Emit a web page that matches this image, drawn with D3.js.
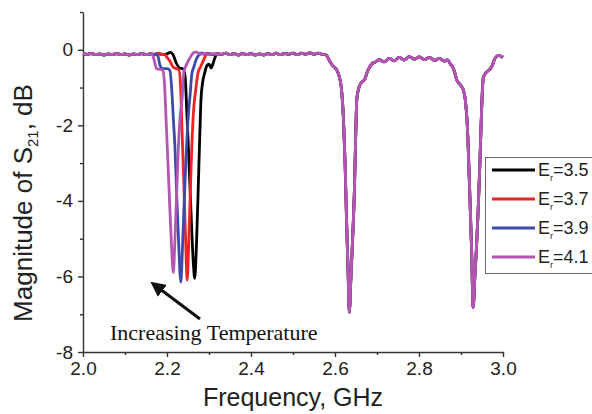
<!DOCTYPE html>
<html lang="en">
<head>
  <meta charset="UTF-8">
  <title>S21 vs Frequency</title>
  <script src="https://d3js.org/d3.v7.min.js"></script>
  <style>
    body {
      margin: 0;
      padding: 0;
      background: #fff;
      font-family: "Liberation Sans", Arial, sans-serif;
    }
    .axis path, .axis line {
      stroke: #333;
      stroke-width: 1.4;
    }
    .axis text {
      font-size: 19px;
      fill: #222;
      font-family: "Liberation Sans", Arial, sans-serif;
    }
  </style>
</head>
<body>
  <div id="chart"></div>
  <script>
    const width = 592;
    const height = 414;

    // permittivity labels and line colours
    const labels = ["3.5", "3.7", "3.9", "4.1"];
    const colors = ["#000000", "#f02323", "#3c4aaa", "#b455b4"];

    // shared baseline below the first notch [GHz, dB]
    const baseLeft = [
      [2.00, -0.10], [2.01, -0.12], [2.02, -0.10], [2.03, -0.13], [2.04, -0.11],
      [2.05, -0.14], [2.06, -0.11], [2.07, -0.13], [2.08, -0.10], [2.09, -0.13],
      [2.10, -0.11], [2.11, -0.14], [2.12, -0.11], [2.13, -0.13], [2.14, -0.10],
      [2.15, -0.13], [2.16, -0.11]
    ];

    // first notch, one per curve
    const notchE35 = [
      [2.17, -0.12], [2.18, -0.10], [2.19, -0.13], [2.20, -0.11], [2.207, -0.07],
      [2.214, -0.12], [2.222, -0.35], [2.23, -0.48], [2.238, -0.50], [2.243, -0.70],
      [2.247, -1.6], [2.251, -2.6], [2.255, -3.7], [2.259, -4.8], [2.263, -5.7],
      [2.266, -6.05], [2.27, -5.2], [2.274, -3.8], [2.278, -2.3], [2.281, -1.3],
      [2.285, -0.85], [2.29, -0.60], [2.295, -0.42], [2.30, -0.38], [2.305, -0.48],
      [2.31, -0.35], [2.315, -0.18], [2.32, -0.10], [2.325, -0.12]
    ];
    const notchE37 = [
      [2.17, -0.12], [2.18, -0.10], [2.19, -0.13], [2.195, -0.12], [2.20, -0.20],
      [2.207, -0.30], [2.214, -0.45], [2.222, -0.50], [2.228, -0.52], [2.232, -0.9],
      [2.236, -2.2], [2.24, -3.5], [2.244, -4.9], [2.248, -6.1], [2.252, -5.0],
      [2.256, -3.6], [2.26, -2.3], [2.264, -1.5], [2.268, -1.1], [2.274, -0.60],
      [2.28, -0.45], [2.286, -0.30], [2.29, -0.20], [2.295, -0.09], [2.30, -0.10],
      [2.31, -0.13], [2.32, -0.10]
    ];
    const notchE39 = [
      [2.17, -0.12], [2.178, -0.15], [2.183, -0.40], [2.19, -0.50], [2.20, -0.50],
      [2.207, -0.55], [2.211, -1.0], [2.215, -1.8], [2.219, -2.6], [2.223, -3.8],
      [2.227, -4.9], [2.233, -6.15], [2.237, -5.2], [2.241, -4.0], [2.246, -2.7],
      [2.251, -1.7], [2.255, -1.2], [2.259, -0.65], [2.264, -0.45], [2.269, -0.27],
      [2.275, -0.15], [2.283, -0.08], [2.29, -0.12], [2.30, -0.10], [2.31, -0.13],
      [2.32, -0.11]
    ];
    const notchE41 = [
      [2.165, -0.13], [2.17, -0.30], [2.175, -0.50], [2.185, -0.52], [2.19, -0.55],
      [2.194, -0.9], [2.198, -1.9], [2.202, -2.9], [2.206, -4.0], [2.21, -5.0],
      [2.215, -5.9], [2.219, -5.0], [2.223, -3.8], [2.227, -2.6], [2.231, -1.8],
      [2.236, -1.3], [2.24, -0.60], [2.246, -0.40], [2.252, -0.27], [2.258, -0.15],
      [2.264, -0.07], [2.27, -0.06], [2.28, -0.12], [2.29, -0.10], [2.30, -0.13],
      [2.31, -0.10], [2.32, -0.12]
    ];

    // upper band, identical for all curves
    const baseRight = [
      [2.33, -0.12], [2.34, -0.09], [2.35, -0.13], [2.36, -0.10], [2.37, -0.14],
      [2.38, -0.10], [2.39, -0.13], [2.40, -0.10], [2.41, -0.14], [2.42, -0.11],
      [2.43, -0.14], [2.44, -0.10], [2.45, -0.13], [2.46, -0.09], [2.47, -0.13],
      [2.48, -0.10], [2.49, -0.12], [2.50, -0.09], [2.51, -0.13], [2.52, -0.09],
      [2.53, -0.12], [2.54, -0.08], [2.55, -0.12], [2.56, -0.09], [2.57, -0.12],
      [2.575, -0.12], [2.58, -0.15], [2.585, -0.25], [2.59, -0.35], [2.595, -0.42],
      [2.60, -0.48], [2.605, -0.55], [2.61, -0.70], [2.615, -1.0], [2.62, -1.8],
      [2.624, -3.0], [2.627, -4.3], [2.631, -5.8], [2.634, -6.95], [2.638, -6.0],
      [2.642, -5.0], [2.646, -3.8], [2.649, -2.4], [2.652, -1.3], [2.657, -1.0],
      [2.662, -0.88], [2.668, -0.82], [2.672, -0.75], [2.677, -0.58], [2.683, -0.45],
      [2.69, -0.35], [2.695, -0.33], [2.705, -0.26], [2.717, -0.32], [2.729, -0.23],
      [2.741, -0.29], [2.753, -0.20], [2.765, -0.27], [2.777, -0.18], [2.789, -0.25],
      [2.801, -0.19], [2.813, -0.26], [2.825, -0.20], [2.837, -0.28], [2.849, -0.23],
      [2.861, -0.30], [2.868, -0.27], [2.875, -0.38], [2.88, -0.45], [2.885, -0.60],
      [2.89, -0.80], [2.90, -0.95], [2.905, -1.05], [2.91, -1.3], [2.915, -2.0],
      [2.92, -3.5], [2.925, -5.2], [2.929, -6.82], [2.933, -6.0], [2.937, -5.2],
      [2.941, -4.2], [2.945, -3.0], [2.949, -1.6], [2.953, -0.75], [2.96, -0.60],
      [2.965, -0.55], [2.97, -0.50], [2.975, -0.40], [2.98, -0.25], [2.985, -0.18],
      [2.99, -0.15], [2.995, -0.17], [3.00, -0.20]
    ];

    const notches = [notchE35, notchE37, notchE39, notchE41];
    const series = labels.map((lab, i) => ({
      label: lab,
      color: colors[i],
      values: baseLeft.concat(notches[i], baseRight)
    }));

    const svg = d3.select("#chart")
      .append("svg")
      .attr("width", width)
      .attr("height", height);

    const x = d3.scaleLinear().domain([2, 3]).range([83, 503]);
    const y = d3.scaleLinear().domain([-8, 1]).range([352, 12]);

    // minor ticks first so major ones draw over them
    svg.append("g")
      .attr("class", "axis")
      .attr("transform", `translate(0,${y(-8)})`)
      .call(d3.axisBottom(x).tickValues(d3.range(2.1, 3, 0.2)).tickSize(3).tickFormat(""))
      .call(g => g.select(".domain").remove());
    svg.append("g")
      .attr("class", "axis")
      .attr("transform", `translate(${x(2)},0)`)
      .call(d3.axisLeft(y).tickValues([-7, -5, -3, -1, 1]).tickSize(3).tickFormat(""))
      .call(g => g.select(".domain").remove());

    svg.append("g")
      .attr("class", "axis")
      .attr("transform", `translate(0,${y(-8)})`)
      .call(d3.axisBottom(x).tickValues([2, 2.2, 2.4, 2.6, 2.8, 3]).tickSize(5).tickSizeOuter(0)
        .tickPadding(5).tickFormat(d3.format(".1f")));

    svg.append("g")
      .attr("class", "axis")
      .attr("transform", `translate(${x(2)},0)`)
      .call(d3.axisLeft(y).tickValues([-8, -6, -4, -2, 0]).tickSize(5).tickSizeOuter(0)
        .tickPadding(5).tickFormat(d => d < 0 ? "-" + Math.abs(d) : d));

    const line = d3.line()
      .x(d => x(d[0]))
      .y(d => y(d[1]))
      .curve(d3.curveMonotoneX);

    svg.append("g")
      .selectAll("path")
      .data(series)
      .join("path")
      .attr("fill", "none")
      .attr("stroke", d => d.color)
      .attr("stroke-width", 2.8)
      .attr("stroke-linejoin", "round")
      .attr("d", d => line(d.values));

    // axis titles
    const yTitle = svg.append("text")
      .attr("transform", "translate(32,203) rotate(-90)")
      .attr("text-anchor", "middle")
      .style("font-size", "26px")
      .attr("fill", "#222");
    yTitle.append("tspan").text("Magnitude of S");
    yTitle.append("tspan").text("21").style("font-size", "15px").attr("dy", 6);
    yTitle.append("tspan").text(", dB").attr("dy", -6);

    svg.append("text")
      .attr("x", 293)
      .attr("y", 406)
      .attr("text-anchor", "middle")
      .style("font-size", "25px")
      .attr("fill", "#222")
      .text("Frequency, GHz");

    // annotation
    svg.append("defs").append("marker")
      .attr("id", "head")
      .attr("viewBox", "0 0 10 10")
      .attr("refX", 2)
      .attr("refY", 5)
      .attr("markerWidth", 5)
      .attr("markerHeight", 5)
      .attr("orient", "auto")
      .append("path")
      .attr("d", "M0,0L10,5L0,10Z")
      .attr("fill", "#111");

    svg.append("line")
      .attr("x1", 200).attr("y1", 319)
      .attr("x2", 160).attr("y2", 289)
      .attr("stroke", "#111")
      .attr("stroke-width", 3)
      .attr("marker-end", "url(#head)");

    svg.append("text")
      .attr("x", 110)
      .attr("y", 340)
      .style("font-family", "'Liberation Serif', 'Times New Roman', serif")
      .style("font-size", "22px")
      .attr("fill", "#111")
      .text("Increasing Temperature");

    // legend
    const legend = svg.append("g");
    legend.append("rect")
      .attr("x", 485.5).attr("y", 157.5)
      .attr("width", 120).attr("height", 116)
      .attr("fill", "#fff")
      .attr("stroke", "#666");

    const item = legend.selectAll("g.item")
      .data(series)
      .join("g")
      .attr("class", "item")
      .attr("transform", (d, i) => `translate(0,${170 + i * 29})`);

    item.append("line")
      .attr("x1", 492).attr("x2", 535)
      .attr("stroke", d => d.color)
      .attr("stroke-width", 2.8);

    const lt = item.append("text")
      .attr("x", 538)
      .attr("y", 6)
      .style("font-size", "18px")
      .attr("fill", "#222");
    lt.append("tspan").text("E");
    lt.append("tspan").text("r").style("font-size", "9px").attr("dy", 5);
    lt.append("tspan").text(d => "=" + d.label).attr("dy", -5);
  </script>
</body>
</html>
